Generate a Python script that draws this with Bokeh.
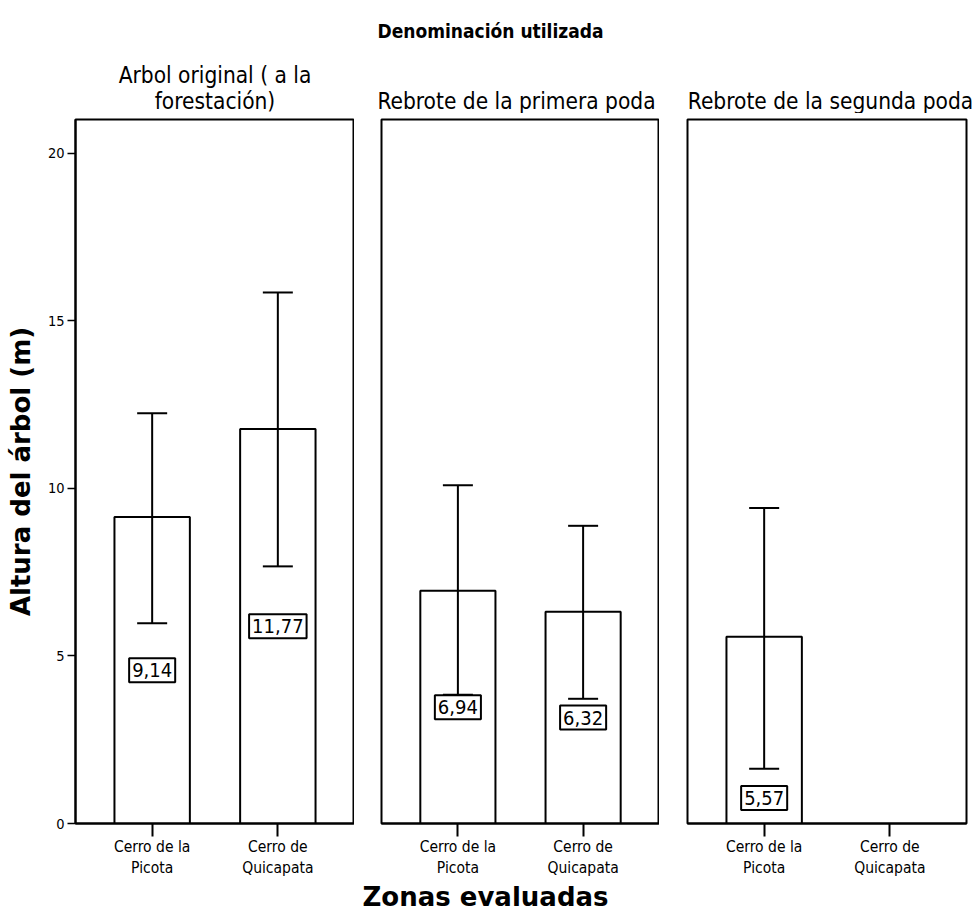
from bokeh.core.properties import value
from bokeh.embed import file_html
from bokeh.layouts import column, row
from bokeh.models import (ColumnDataSource, FixedTicker, Label,
                          Range1d, TeeHead, Whisker)
from bokeh.plotting import figure
from bokeh.resources import INLINE

# ---- data -------------------------------------------------------------
main_title = "Denominación utilizada"
panel_titles = ["Arbol original ( a la\nforestación)",
                "Rebrote de la primera poda",
                "Rebrote de la segunda poda"]
zone_labels = ["Cerro de la\nPicota", "Cerro de\nQuicapata"]
x_caption = "Zonas evaluadas"
y_caption = "Altura del árbol (m)"

# mean tree height (m) per zone, one list per panel; None = no trees
mean_height = [[9.14, 11.77], [6.94, 6.32], [5.57, None]]
upper_limit = [[12.24, 15.84], [10.09, 8.88], [9.41, None]]
lower_limit = [[5.97, 7.67], [3.84, 3.72], [1.63, None]]

y_ticks = [0, 5, 10, 15, 20]

# ---- styling ----------------------------------------------------------
NARROW = "DejaVu Sans Condensed, Liberation Sans, sans-serif"
WIDE_BOLD = "DejaVu Sans"
LW = 2

Y_MAX = 21
X_RANGE = (-0.61, 1.61)
HEAD_H = 113
PANEL_H = 767
FOOT_H = 40
PANEL_TOP, PANEL_BOTTOM = 6, 57

y_range = Range1d(0, Y_MAX)


def blank(width, height):
    """A bare canvas in pixel units (y grows downward) for free text."""
    f = figure(width=width, height=height, output_backend="svg",
               toolbar_location=None,
               x_range=Range1d(0, width), y_range=Range1d(height, 0),
               min_border=0)
    f.axis.visible = False
    f.grid.visible = False
    f.outline_line_color = None
    f.background_fill_color = "white"
    f.border_fill_color = "white"
    return f


def make_panel(idx, width, left, right):
    p = figure(width=width, height=PANEL_H, output_backend="svg",
               toolbar_location=None,
               x_range=Range1d(*X_RANGE), y_range=y_range,
               min_border_left=left, min_border_right=right,
               min_border_top=PANEL_TOP, min_border_bottom=PANEL_BOTTOM)
    p.grid.visible = False
    p.outline_line_color = "black"
    p.outline_line_width = LW
    p.background_fill_color = "white"
    p.border_fill_color = "white"

    xs, tops, ups, los = [], [], [], []
    for i, m in enumerate(mean_height[idx]):
        if m is None:
            continue
        xs.append(i)
        tops.append(m)
        ups.append(upper_limit[idx][i])
        los.append(lower_limit[idx][i])

    src = ColumnDataSource(dict(x=xs, top=tops, upper=ups, lower=los))
    p.vbar(x="x", top="top", width=0.6, source=src,
           fill_color="white", line_color="black", line_width=LW)

    whisk = Whisker(source=src, base="x", upper="upper", lower="lower",
                    line_color="black", line_width=LW, level="annotation",
                    upper_head=TeeHead(size=30, line_width=LW, line_color="black"),
                    lower_head=TeeHead(size=30, line_width=LW, line_color="black"))
    p.add_layout(whisk)

    # boxed value labels: half bar height, moved below the lower whisker
    # when the whisker would run through the box
    for x, m, lo in zip(xs, tops, los):
        ly = m / 2 if m / 2 <= lo else lo - 0.87
        p.add_layout(Label(x=x, y=ly, text=f"{m:.2f}".replace(".", ","),
                           text_align="center", text_baseline="middle",
                           text_font=NARROW, text_font_size="20px",
                           text_color="black",
                           background_fill_color="white",
                           background_fill_alpha=1,
                           border_line_color="black", border_line_width=LW,
                           padding=(3, 5)))

    # x axis: the two zones
    xa = p.xaxis[0]
    xa.ticker = FixedTicker(ticks=[0, 1])
    xa.major_label_overrides = {0: zone_labels[0], 1: zone_labels[1]}
    xa.major_label_text_font = NARROW
    xa.major_label_text_font_size = "15.5px"
    xa.major_label_text_color = "black"
    xa.major_label_standoff = 1
    xa.major_tick_out = 13
    xa.major_tick_in = 0
    xa.major_tick_line_width = LW
    xa.minor_tick_line_color = None
    xa.axis_line_width = LW
    xa.axis_line_color = "black"
    return p


p1 = make_panel(0, 354, 75, 0)
p2 = make_panel(1, 305, 27, 0)
p3 = make_panel(2, 321, 28, 14)

# shared height axis on the first panel only
ya = p1.yaxis[0]
ya.ticker = FixedTicker(ticks=y_ticks)
ya.major_label_text_font = NARROW
ya.major_label_text_font_size = "14.5px"
ya.major_label_text_color = "black"
ya.major_label_standoff = 3
ya.major_tick_out = 8
ya.major_tick_in = 0
ya.major_tick_line_width = 1.5
ya.minor_tick_line_color = None
ya.axis_line_width = LW
ya.axis_line_color = "black"
ya.axis_label = y_caption
ya.axis_label_text_font = WIDE_BOLD
ya.axis_label_text_font_style = "bold"
ya.axis_label_text_font_size = "26px"
ya.axis_label_text_color = "black"
ya.axis_label_standoff = 9

for p in (p2, p3):
    p.yaxis.visible = False

# heading strip: overall title plus one heading per panel
head = blank(980, HEAD_H)
head.text(x=[490], y=[30], text=[main_title], text_align="center",
          text_baseline="middle", text_font=value(NARROW),
          text_font_style="bold", text_font_size="19px", text_color="black")
head.text(x=[214.5, 516, 830], y=[113, 113, 113], text=panel_titles,
          text_align="center", text_baseline="bottom",
          text_font=value(NARROW), text_font_size="22.5px",
          text_line_height=1.0, text_color="black")

# caption strip under the panels
foot = blank(980, FOOT_H)
foot.text(x=[485], y=[16], text=[x_caption], text_align="center",
          text_baseline="middle", text_font=value(WIDE_BOLD),
          text_font_style="bold", text_font_size="26px", text_color="black")

layout = column(head, row(p1, p2, p3), foot)
open("out.html", "w").write(file_html(layout, INLINE))
